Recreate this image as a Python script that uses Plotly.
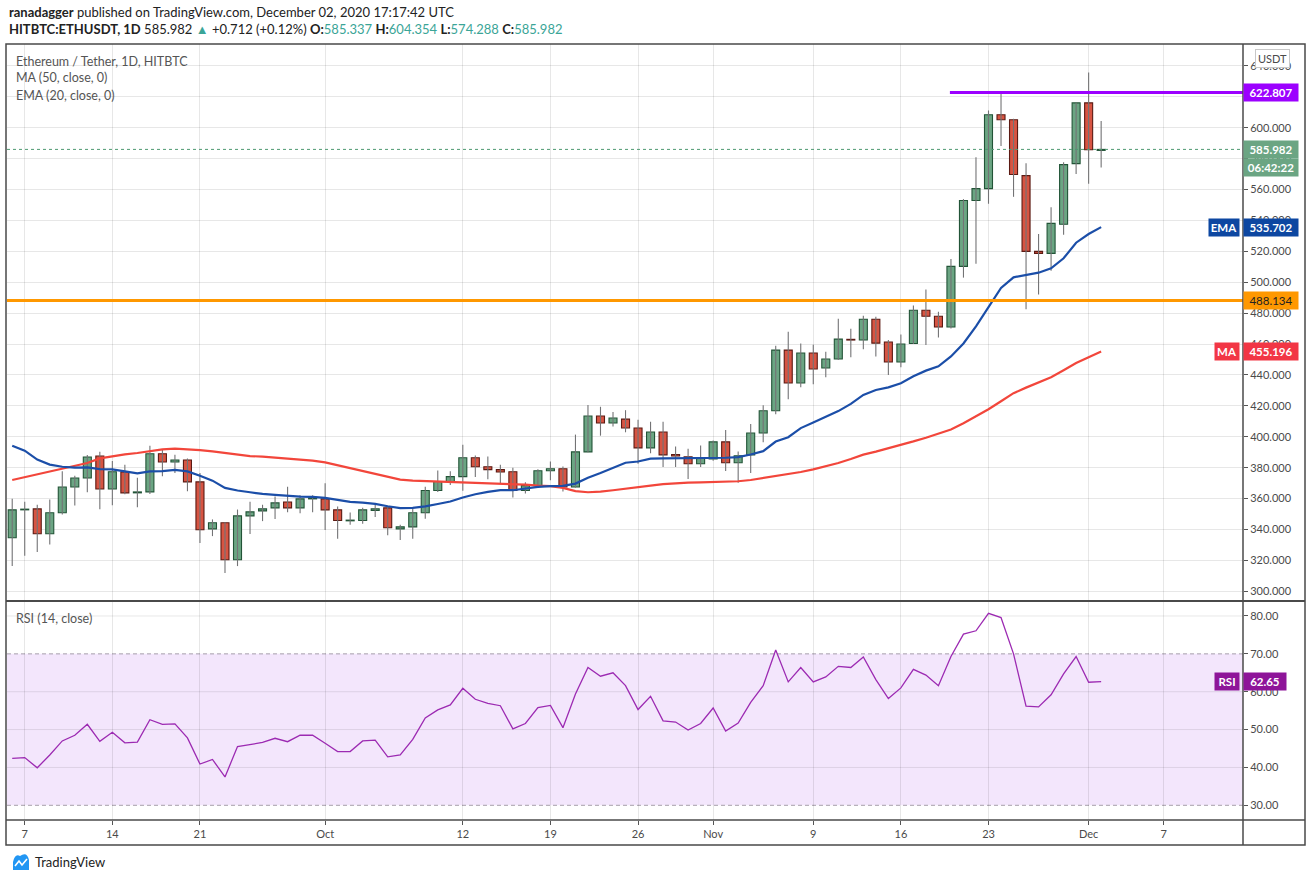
import plotly.graph_objects as go
from plotly.subplots import make_subplots
import pandas as pd

# ---------------- data ----------------
DATES = pd.date_range("2020-09-06", "2020-12-02", freq="D")

OPEN = [334.6, 352.7, 353.3, 337.2, 350.8, 367.5, 373.3, 387.5, 366.2, 377.2,
        363.7, 364.3, 389.0, 383.7, 385.0, 370.8, 340.4, 344.3, 320.4, 348.8,
        352.0, 354.0, 357.8, 354.0, 359.8, 359.8, 352.7, 345.6, 345.8, 352.3,
        354.0, 340.4, 341.7, 350.8, 365.2, 371.0, 374.2, 386.4, 380.6, 378.7,
        377.4, 365.2, 368.4, 378.0, 379.3, 367.5, 390.2, 413.4, 408.9, 411.4,
        405.7, 392.8, 403.1, 388.5, 387.0, 382.5, 385.7, 396.7, 383.2, 388.3,
        402.4, 416.8, 456.1, 434.8, 454.2, 444.5, 450.3, 463.0, 462.6, 476.1,
        461.3, 448.4, 460.4, 481.9, 478.0, 471.0, 510.3, 552.9, 560.6, 608.4,
        605.2, 569.0, 520.0, 518.7, 537.5, 576.8, 616.1, 585.337]
HIGH = [359.8, 358.0, 356.0, 359.4, 377.6, 374.8, 388.2, 390.3, 384.3, 381.9,
        373.5, 394.2, 392.0, 388.4, 386.0, 376.6, 346.5, 344.6, 352.9, 358.0,
        356.0, 361.3, 367.7, 362.2, 362.2, 369.9, 354.8, 351.0, 354.0, 356.0,
        354.5, 343.0, 353.3, 367.7, 378.2, 377.6, 394.9, 387.9, 387.2, 381.9,
        380.0, 370.5, 378.9, 384.0, 380.8, 401.4, 420.6, 419.4, 416.1, 417.2,
        411.0, 409.7, 409.7, 393.7, 392.2, 394.3, 397.5, 404.4, 390.5, 408.2,
        420.4, 458.9, 468.0, 460.4, 459.6, 455.0, 476.3, 469.9, 478.3, 477.6,
        462.6, 466.2, 484.9, 495.3, 480.9, 515.1, 553.8, 580.9, 611.2, 623.4,
        605.8, 577.0, 531.2, 548.6, 577.6, 616.1, 635.7, 604.354]
LOW = [316.3, 323.0, 325.4, 330.3, 349.7, 355.5, 364.1, 353.1, 355.7, 362.8,
       354.4, 363.0, 374.4, 376.6, 364.7, 331.2, 335.7, 311.8, 316.3, 337.0,
       345.4, 346.7, 351.2, 350.5, 351.2, 339.6, 334.0, 343.0, 343.7, 348.0,
       336.3, 333.1, 334.0, 346.9, 364.3, 368.8, 365.0, 374.0, 372.5, 369.7,
       360.7, 363.3, 367.5, 371.8, 364.5, 367.1, 390.0, 400.7, 406.7, 402.9,
       382.5, 389.4, 380.4, 380.4, 372.7, 380.4, 384.5, 377.8, 370.3, 376.5,
       396.4, 414.6, 424.3, 432.0, 434.0, 438.5, 449.7, 451.4, 456.6, 452.0,
       440.0, 445.0, 460.0, 459.4, 464.3, 470.1, 503.0, 512.0, 550.8, 588.2,
       555.3, 482.6, 492.0, 507.5, 530.8, 570.1, 563.7, 574.288]
CLOSE = [352.7, 353.1, 337.2, 350.8, 367.5, 373.3, 386.9, 366.2, 377.4, 363.7,
         364.3, 389.0, 383.7, 385.0, 370.8, 339.8, 344.3, 320.4, 348.8, 351.4,
         353.3, 357.2, 354.0, 359.8, 360.4, 352.7, 345.8, 346.0, 352.7, 353.3,
         341.1, 341.7, 350.8, 365.2, 371.0, 374.2, 386.4, 380.6, 378.7, 377.2,
         365.2, 368.4, 378.0, 379.3, 367.5, 390.2, 413.4, 408.9, 412.1, 405.7,
         392.8, 403.1, 388.3, 387.5, 382.5, 386.2, 396.7, 383.2, 387.7, 402.4,
         416.8, 456.1, 434.8, 454.2, 443.9, 450.3, 463.2, 462.6, 476.1, 460.6,
         448.4, 460.0, 481.9, 478.0, 471.0, 510.3, 552.9, 560.6, 608.4, 605.2,
         569.7, 520.0, 518.7, 538.1, 576.1, 616.1, 585.8, 585.982]
EMA20 = [394.2, 391.0, 385.2, 382.0, 380.6, 380.0, 380.2, 379.1, 378.9, 377.8,
         376.3, 377.6, 377.8, 378.5, 377.6, 374.8, 371.6, 366.9, 365.2, 364.1,
         363.0, 362.4, 361.7, 361.3, 361.1, 360.4, 359.1, 357.8, 357.4, 356.6,
         355.0, 353.8, 354.0, 354.9, 356.5, 358.1, 360.7, 362.8, 364.3, 365.4,
         365.4, 366.5, 367.5, 368.0, 368.2, 369.7, 373.5, 376.5, 380.0, 383.2,
         384.0, 385.8, 386.0, 386.0, 386.0, 386.2, 386.4, 386.4, 386.8, 388.5,
         390.7, 396.9, 399.7, 405.6, 409.2, 412.7, 416.6, 421.3, 427.1, 430.3,
         432.0, 434.6, 439.1, 442.8, 445.6, 452.0, 460.4, 471.5, 483.5, 496.3,
         503.2, 504.7, 506.2, 509.0, 515.5, 525.6, 531.2, 535.702]
MA50 = [372.0, 373.8, 375.5, 377.2, 379.1, 380.9, 383.0, 386.0, 387.5, 388.6,
        389.5, 390.8, 391.8, 392.3, 392.0, 391.4, 390.5, 389.5, 388.4, 387.5,
        387.1, 386.5, 385.8, 385.2, 384.5, 383.4, 381.5, 379.6, 377.6, 375.7,
        373.8, 372.3, 371.6, 371.3, 371.2, 371.0, 370.7, 370.3, 370.1, 369.9,
        369.5, 369.0, 368.4, 368.0, 366.9, 364.8, 364.1, 364.5, 365.4, 366.5,
        367.5, 368.4, 369.3, 369.9, 370.3, 370.5, 370.7, 371.0, 371.2, 372.0,
        373.3, 374.6, 375.8, 377.2, 378.9, 380.8, 383.0, 385.6, 388.4, 390.4,
        392.5, 394.6, 397.0, 399.4, 401.9, 404.7, 408.7, 413.1, 417.8, 423.0,
        428.2, 431.8, 435.2, 438.5, 443.0, 447.7, 451.5, 455.196]
RSI14 = [42.4, 42.6, 39.9, 43.3, 47.0, 48.5, 51.4, 46.9, 49.3, 46.5,
         46.7, 52.6, 51.4, 51.5, 47.8, 40.9, 42.1, 37.5, 45.5, 46.1,
         46.6, 47.7, 46.8, 48.5, 48.5, 46.4, 44.2, 44.2, 47.0, 47.2,
         42.8, 43.3, 47.4, 53.1, 55.2, 56.5, 60.9, 58.0, 56.9, 56.3,
         50.2, 51.6, 55.8, 56.4, 50.5, 59.4, 66.4, 64.1, 65.0, 61.6,
         55.3, 58.8, 52.3, 52.0, 49.9, 51.6, 55.7, 49.6, 51.7, 57.2,
         61.6, 71.0, 62.6, 66.4, 62.6, 63.9, 66.7, 66.4, 69.2, 63.2,
         58.2, 61.0, 65.9, 64.4, 61.6, 69.3, 75.2, 76.1, 80.7, 79.6,
         70.0, 56.2, 56.0, 59.2, 64.7, 69.3, 62.5, 62.65]

SUPPORT_LEVEL = 488.134
RESIST_LEVEL = 622.807
RESIST_START = "2020-11-19 22:00"
LAST_PRICE = 585.982
COUNTDOWN = "06:42:22"

PRICE_TICKS = list(range(300, 660, 20))
RSI_TICKS = [30, 40, 50, 60, 70, 80]
RSI_GRID = [40, 50, 60, 80]
X_TICKS = ["2020-09-07", "2020-09-14", "2020-09-21", "2020-10-01", "2020-10-12",
           "2020-10-19", "2020-10-26", "2020-11-01", "2020-11-09", "2020-11-16",
           "2020-11-23", "2020-12-01", "2020-12-07"]
X_TICK_TEXT = ["7", "14", "21", "Oct", "12", "19", "26", "Nov", "9", "16",
               "23", "Dec", "7"]
X_RANGE = ["2020-09-05 14:00", "2020-12-13 08:00"]
PRICE_RANGE = [293.7, 654.2]
RSI_RANGE = [26.12, 83.96]

# ---------------- styling ----------------
FONT = "Lato, 'Liberation Sans', sans-serif"
UP_FILL, UP_EDGE = "#6ba583", "#225437"
DN_FILL, DN_EDGE = "#d75442", "#5b1a13"
WICK = "#737375"
GRID = "rgba(0,0,0,0.095)"
FRAME = "#4a4a4a"
TXT = "#4a4a4a"

W, H = 1311, 881
ML, MR, MT, MB = 7, 68, 44, 61
PW, PH = W - ML - MR, H - MT - MB


def px(x):
    return (x - ML) / PW


def py(y):
    return (H - MB - y) / PH


fig = make_subplots(rows=2, cols=1, shared_xaxes=True, vertical_spacing=0,
                    row_heights=[557 / 776, 219 / 776])

# wicks
wx, wy = [], []
for d, lo, hi in zip(DATES, LOW, HIGH):
    wx += [d, d, None]
    wy += [lo, hi, None]
fig.add_trace(go.Scatter(x=wx, y=wy, mode="lines", line=dict(color=WICK, width=1.1),
                         hoverinfo="skip", showlegend=False), row=1, col=1)

# bodies
bases = [min(o, c) for o, c in zip(OPEN, CLOSE)]
heights = [max(abs(c - o), 0.45) for o, c in zip(OPEN, CLOSE)]
fills = [UP_FILL if c >= o else DN_FILL for o, c in zip(OPEN, CLOSE)]
edges = [UP_EDGE if c >= o else DN_EDGE for o, c in zip(OPEN, CLOSE)]
fig.add_trace(go.Bar(x=DATES, y=heights, base=bases, width=0.64 * 86400000,
                     marker=dict(color=fills, line=dict(color=edges, width=1.1)),
                     showlegend=False), row=1, col=1)

fig.add_trace(go.Scatter(x=DATES, y=MA50, mode="lines",
                         line=dict(color="#f2463b", width=2.2), showlegend=False),
              row=1, col=1)
fig.add_trace(go.Scatter(x=DATES, y=EMA20, mode="lines",
                         line=dict(color="#1b4ea8", width=2.2), showlegend=False),
              row=1, col=1)

fig.add_trace(go.Scatter(x=DATES, y=RSI14, mode="lines",
                         line=dict(color="#9c2ab2", width=1.3), showlegend=False),
              row=2, col=1)

shapes = []
# RSI band and grid
shapes.append(dict(type="rect", xref="paper", yref="y2", x0=0, x1=1, y0=30, y1=70,
                   fillcolor="#f3e6fc", line=dict(width=0), layer="below"))
for g in RSI_GRID:
    shapes.append(dict(type="line", xref="paper", yref="y2", x0=0, x1=1, y0=g, y1=g,
                       line=dict(color=GRID, width=1), layer="below"))
for g in (30, 70):
    shapes.append(dict(type="line", xref="paper", yref="y2", x0=0, x1=1, y0=g, y1=g,
                       line=dict(color="#a79fab", width=1, dash="4px,3px"), layer="below"))
# price lines
shapes.append(dict(type="line", xref="paper", yref="y", x0=0, x1=1,
                   y0=LAST_PRICE, y1=LAST_PRICE,
                   line=dict(color="#4f9a72", width=1, dash="dot")))
shapes.append(dict(type="line", xref="paper", yref="y", x0=0, x1=1,
                   y0=SUPPORT_LEVEL, y1=SUPPORT_LEVEL,
                   line=dict(color="#ff9800", width=3)))
shapes.append(dict(type="line", xref="x", yref="y", x0=RESIST_START, x1=X_RANGE[1],
                   y0=RESIST_LEVEL, y1=RESIST_LEVEL,
                   line=dict(color="#9c00ff", width=3)))
# frame
x_left, x_right = px(6), px(1305)
y_bot = py(845)
shapes.append(dict(type="rect", xref="paper", yref="paper", x0=x_left, x1=x_right,
                   y0=y_bot, y1=1, line=dict(color=FRAME, width=1.5)))
shapes.append(dict(type="line", xref="paper", yref="paper", x0=1, x1=1, y0=y_bot, y1=1,
                   line=dict(color=FRAME, width=1.5)))
shapes.append(dict(type="line", xref="paper", yref="paper", x0=x_left, x1=x_right,
                   y0=0, y1=0, line=dict(color=FRAME, width=1.5)))
shapes.append(dict(type="line", xref="paper", yref="paper", x0=x_left, x1=x_right,
                   y0=py(601), y1=py(601), line=dict(color=FRAME, width=2)))
# TradingView logo (cloud)
logo = "M {0},{1} L {0},{2} Q {3},{4} {5},{6} Q {7},{8} {9},{10} L {9},{1} Z".format(
    px(13), py(870), py(862), px(15), py(853), px(20), py(856),
    px(27), py(851), px(29), py(860))
shapes.append(dict(type="path", xref="paper", yref="paper", path=logo,
                   fillcolor="#2196f3", line=dict(width=0)))
zig = "M {},{} L {},{} L {},{} L {},{}".format(px(15), py(866), px(19), py(861),
                                             px(22), py(865), px(27), py(859))
shapes.append(dict(type="path", xref="paper", yref="paper", path=zig,
                   line=dict(color="white", width=1.6)))

ann = []


def text(x, y, s, size=13, color="#333", **kw):
    ann.append(dict(xref="paper", yref="paper", x=px(x), y=py(y), text=s,
                    showarrow=False, xanchor="left", yanchor="middle",
                    font=dict(family=FONT, size=size, color=color), **kw))


TEAL = "#3ba597"
text(7, 12, "<b>ranadagger</b> published on TradingView.com, December 02, 2020 17:17:42 UTC",
     size=13, color="#222")
text(7, 29, "<b>HITBTC:ETHUSDT, 1D</b> 585.982 <span style='color:%s'>▲</span> +0.712 (+0.12%%) "
     "<b>O:</b><span style='color:%s'>585.337</span> <b>H:</b><span style='color:%s'>604.354</span> "
     "<b>L:</b><span style='color:%s'>574.288</span> <b>C:</b><span style='color:%s'>585.982</span>"
     % (TEAL, TEAL, TEAL, TEAL, TEAL), size=13, color="#222")
text(14, 61, "Ethereum / Tether, 1D, HITBTC", size=12.5, color="#555")
text(14, 78, "MA (50, close, 0)", size=12.5, color="#555")
text(14, 95, "EMA (20, close, 0)", size=12.5, color="#555")
text(14, 618, "RSI (14, close)", size=12.5, color="#555")
text(33, 862, "TradingView", size=13, color="#222")

ann.append(dict(xref="paper", yref="paper", x=px(1272), y=py(58), text="USDT",
                xanchor="center", yanchor="middle",
                showarrow=False, bgcolor="white", bordercolor="#c8c8c8", borderwidth=1,
                borderpad=2, font=dict(family=FONT, size=11, color=TXT)))


def label(yref, y, s, bg, fg="white", width=52, yshift=0):
    ann.append(dict(xref="paper", yref=yref, x=1, y=y, text=s, showarrow=False,
                    xanchor="left", yanchor="middle", bgcolor=bg, width=width,
                    height=15, borderpad=1, align="center", yshift=yshift,
                    font=dict(family=FONT, size=11.5, color=fg)))


def tag(yref, y, s, bg, width):
    ann.append(dict(xref="paper", yref=yref, x=1, y=y, text="<b>%s</b>" % s, showarrow=False,
                    xanchor="right", yanchor="middle", bgcolor=bg, width=width,
                    height=15, borderpad=1, align="center", xshift=-3,
                    font=dict(family=FONT, size=11.5, color="white")))


label("y", RESIST_LEVEL, "<b>%.3f</b>" % RESIST_LEVEL, "#9c00ff")
label("y", LAST_PRICE, "<b>%.3f</b>" % LAST_PRICE, UP_FILL)
label("y", LAST_PRICE, "<b>%s</b>" % COUNTDOWN, UP_FILL, yshift=-18)
label("y", EMA20[-1], "<b>%.3f</b>" % EMA20[-1], "#0d47a1")
tag("y", EMA20[-1], "EMA", "#0d47a1", 28)
label("y", SUPPORT_LEVEL, "%.3f" % SUPPORT_LEVEL, "#ff9800", fg="#222")
label("y", MA50[-1], "<b>%.3f</b>" % MA50[-1], "#f23645")
tag("y", MA50[-1], "MA", "#f23645", 22)
label("y2", RSI14[-1], "<b>%.2f</b>" % RSI14[-1], "#8e1599", width=40)
tag("y2", RSI14[-1], "RSI", "#8e1599", 22)

axis_font = dict(family=FONT, size=11, color=TXT)
fig.update_xaxes(type="date", range=X_RANGE, tickvals=X_TICKS, ticktext=X_TICK_TEXT,
                 showgrid=True, gridcolor=GRID, gridwidth=1, zeroline=False,
                 showline=False, tickfont=axis_font, rangeslider=dict(visible=False))
fig.update_xaxes(showticklabels=False, ticks="", row=1, col=1)
fig.update_xaxes(ticks="outside", ticklen=4, tickcolor="#555", row=2, col=1)
fig.update_yaxes(side="right", range=PRICE_RANGE, tickvals=PRICE_TICKS,
                 ticktext=["%.3f" % v for v in PRICE_TICKS], ticks="outside", ticklen=4,
                 tickcolor="#555", showgrid=True, gridcolor=GRID, zeroline=False,
                 showline=False, tickfont=axis_font, row=1, col=1)
fig.update_yaxes(side="right", range=RSI_RANGE, tickvals=RSI_TICKS,
                 ticktext=["%.2f" % v for v in RSI_TICKS], ticks="outside", ticklen=4,
                 tickcolor="#555", showgrid=False, zeroline=False, showline=False,
                 tickfont=axis_font, row=2, col=1)

fig.update_layout(width=W, height=H, margin=dict(l=ML, r=MR, t=MT, b=MB),
                  paper_bgcolor="white", plot_bgcolor="white", barmode="overlay",
                  showlegend=False, shapes=shapes, annotations=ann,
                  font=dict(family=FONT), hovermode=False)

fig.write_html("out.html", config={"displayModeBar": False},
               post_script="document.body.style.margin='0px';"
                           "document.body.style.overflow='hidden';")
